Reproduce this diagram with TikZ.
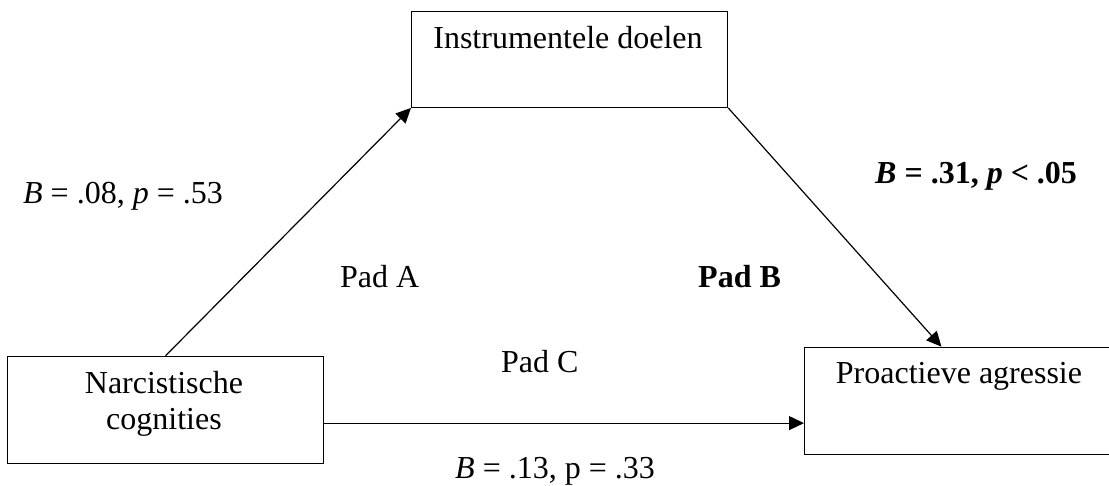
\documentclass[tikz,border=0pt]{standalone}
\usepackage{fontspec}
\setmainfont{Liberation Serif}
\usetikzlibrary{arrows.meta,calc}

\tikzset{
  box/.style={draw, line width=1.2pt, inner sep=0pt, anchor=north west},
  txt/.style={inner sep=0pt, anchor=base, font=\fontsize{32}{36}\selectfont},
  lbl/.style={inner sep=0pt, anchor=base west, font=\fontsize{32}{36}\selectfont},
  arr/.style={line width=1.2pt, -{Triangle[length=15pt, width=14pt]}}
}

\begin{document}
\begin{tikzpicture}[x=1pt, y=-1pt]
  \useasboundingbox (0,0) rectangle (1109,485);

  % variable boxes
  \node[box, minimum width=316pt, minimum height=96pt] (inst) at (411,10.7) {};
  \node[box, minimum width=316pt, minimum height=107pt] (narc) at (7,355.7) {};
  \node[box, minimum width=307pt, minimum height=107.3pt] (proact) at (804,346.7) {};

  % box texts
  \node[txt] (instt) at (568,48) {Instrumentele doelen};
  \node[txt] (narct1) at (164,393) {Narcistische};
  \node[txt] (narct2) at (164,429) {cognities};
  \node[txt] (proactt) at (959,383) {Proactieve agressie};

  % paths
  \draw[arr] (narc.north) -- (inst.south west);
  \draw[arr] (inst.south east) -- ($(proact.north west)!0.446!(proact.north east)$);
  \coordinate (cstart) at ([yshift=-13.3pt]narc.east);
  \draw[arr] (cstart) -- (cstart -| proact.west);

  % path labels
  \node[lbl] (coefa) at (23,203) {\textit{B} = .08, \textit{p} = .53};
  \node[lbl] (coefb) at (875,183) {\bfseries\textit{B} = .31, \textit{p} < .05};
  \node[lbl] (pada) at (340,287) {Pad A};
  \node[lbl] (padb) at (698,287) {\bfseries Pad B};
  \node[lbl] (padc) at (501,372) {Pad C};
  \node[lbl] (coefc) at (455,478) {\textit{B} = .13, p = .33};
\end{tikzpicture}
\end{document}
